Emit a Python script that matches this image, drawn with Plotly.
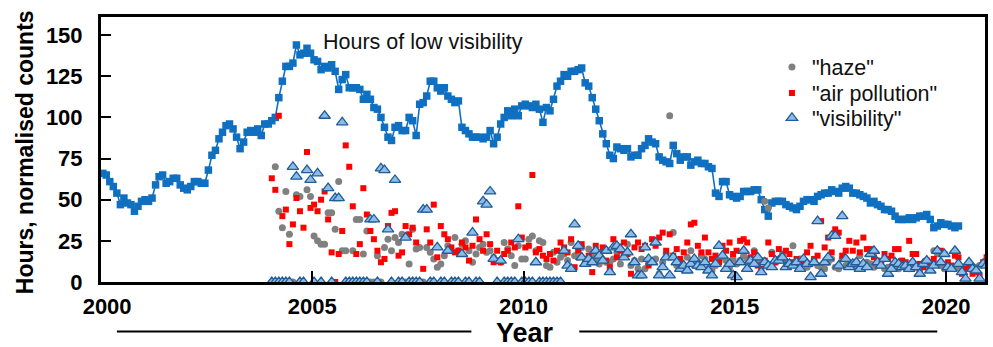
import plotly.graph_objects as go

# ---------------- data ----------------
# Hours of low visibility, monthly from Jan 2000
blue_2000_2020 = [
    66, 65, 61, 58, 54, 47, 51, 48, 47, 43, 46, 49,
    50, 49, 51, 59, 64, 65, 60, 61, 63, 63, 59, 57,
    56, 58, 61, 61, 60, 60, 68, 77, 80, 87, 91, 95,
    96, 93, 88, 81, 85, 91, 92, 91, 93, 89, 96, 96,
    98, 100, 112, 122, 131, 131, 133, 144, 138, 139, 142, 139,
    135, 134, 129, 131, 130, 132, 128, 117, 123, 126, 118, 118,
    118, 117, 111, 114, 111, 106, 105, 100, 94, 88, 86, 94,
    95, 92, 92, 100, 98, 89, 108, 109, 113, 122, 122, 118,
    116, 118, 113, 111, 109, 110, 94, 92, 90, 88, 88, 88,
    87, 88, 92, 84, 88, 96, 100, 104, 101, 105, 101, 107,
    108, 107, 106, 108, 105, 97, 106, 104, 111, 119, 122, 126,
    125, 128, 128, 129, 130, 121, 119, 112, 105, 98, 90, 84,
    77, 75, 82, 81, 80, 81, 76, 77, 77, 81, 83, 87,
    85, 84, 76, 74, 73, 72, 83, 78, 74, 76, 76, 71,
    73, 74, 72, 72, 70, 69, 54, 52, 61, 61, 53, 52,
    51, 52, 55, 55, 55, 56, 56, 50, 44, 40, 48, 49,
    49, 49, 47, 46, 45, 44, 46, 49, 50, 50, 49, 52,
    53, 54, 54, 56, 55, 54, 57, 58, 57, 54, 54, 53,
    52, 51, 48, 49, 47, 46, 44, 44, 43, 40, 38, 38,
    38, 39, 38, 39, 40, 40, 41, 38, 33, 34, 36, 35,
    35, 34, 33, 34,
]

# normalised counts, monthly from Jan 2004
haze = [
    0, 70, 43, 33, 55, 29, 0, 53, 52, 0, 56, 52,
    28, 25, 23, 23, 42, 42, 32, 61, 19, 19, 0, 19,
    38, 38, 17, 31, 0, 0, 16, 0, 21, 26, 19, 27,
    24, 29, 0, 11, 32, 20, 21, 0, 21, 18, 14, 9,
    11, 16, 22, 0, 27, 19, 23, 25, 19, 12, 17, 21,
    23, 18, 19, 15, 13, 12, 24, 20, 16, 10, 22, 14,
    14, 26, 28, 19, 25, 24, 10, 9, 18, 12, 15, 17,
    13, 24, 16, 15, 21, 12, 20, 17, 14, 11, 19, 12,
    12, 14, 18, 11, 16, 23, 10, 13, 8, 14, 8, 11,
    13, 14, 5, 12, 17, 101, 30, 10, 12, 9, 15, 19,
    10, 12, 16, 14, 8, 7, 10, 12, 15, 13, 9, 14,
    11, 13, 16, 14, 12, 19, 14, 13, 49, 45, 18, 12,
    14, 17, 12, 11, 22, 10, 14, 12, 9, 11, 13, 10,
    9, 8, 12, 14, 9, 8, 14, 10, 12, 11, 9, 16,
    10, 12, 11, 9, 10, 12, 8, 9, 9, 11, 8, 10,
    9, 8, 10, 9, 7, 10, 9, 12, 19, 17, 10, 8,
    10, 9, 8, 9, 7, 8, 8, 9, 9, 10, 11, 11,
]

air_pollution = [
    63, 56, 101, 40, 44, 23, 35, 51, 43, 33, 79, 45,
    47, 43, 50, 55, 38, 18, 0, 17, 31, 83, 70, 46,
    17, 23, 57, 41, 31, 26, 19, 12, 14, 34, 42, 43,
    16, 18, 34, 29, 33, 24, 0, 8, 32, 24, 47, 15,
    34, 29, 26, 21, 18, 19, 24, 21, 13, 22, 38, 26,
    19, 29, 23, 12, 19, 12, 17, 19, 24, 21, 46, 27,
    21, 22, 65, 18, 20, 16, 14, 17, 13, 19, 24, 21,
    18, 26, 9, 19, 23, 14, 16, 6, 22, 17, 21, 13,
    9, 26, 15, 19, 24, 17, 5, 21, 24, 20, 22, 10,
    26, 22, 27, 30, 19, 29, 16, 20, 14, 18, 24, 35,
    36, 22, 18, 27, 18, 14, 16, 12, 22, 19, 24, 17,
    19, 25, 26, 24, 15, 18, 10, 8, 13, 24, 17, 12,
    20, 15, 19, 17, 12, 14, 9, 11, 18, 22, 14, 16,
    37, 21, 27, 18, 32, 30, 16, 19, 25, 19, 24, 18,
    27, 20, 20, 15, 13, 12, 17, 14, 16, 20, 20, 13,
    12, 25, 17, 17, 11, 9, 13, 10, 14, 19, 19, 17,
    12, 10, 16, 15, 5, 8, 9, 5, 6, 4, 12, 15,
]

visibility = [
    0, 0, 0, 0, 0, 0, 70, 64, 0, 0, 68, 62,
    0, 66, 0, 101, 57, 0, 51, 51, 97, 0, 0, 0,
    0, 0, 0, 0, 38, 38, 0, 69, 68, 32, 0, 62,
    0, 0, 27, 0, 0, 0, 0, 44, 44, 0, 0, 21,
    0, 0, 19, 0, 0, 0, 17, 0, 0, 30, 0, 0,
    49, 47, 55, 14, 0, 13, 0, 0, 0, 0, 26, 0,
    0, 0, 0, 12, 0, 0, 0, 0, 0, 0, 0, 19,
    10, 8, 35, 22, 15, 11, 14, 12, 19, 16, 13, 19,
    6, 21, 22, 20, 15, 18, 29, 12, 4, 4, 21, 14,
    12, 24, 4, 9, 15, 4, 15, 12, 8, 10, 7, 11,
    14, 10, 9, 12, 7, 4, 11, 22, 16, 8, 11, 4,
    3, 12, 19, 8, 13, 11, 15, 6, 12, 10, 9, 13,
    13, 15, 9, 11, 10, 12, 8, 14, 11, 3, 12, 37,
    5, 12, 15, 28, 28, 10, 40, 14, 9, 11, 12, 8,
    11, 9, 17, 19, 12, 10, 14, 5, 8, 12, 11, 9,
    10, 8, 12, 9, 5, 11, 13, 7, 10, 19, 12, 17,
    9, 8, 19, 11, 6, 2, 12, 8, 7, 2, 11, 10,
]

blue_start_year = 2000
counts_start_year = 2004
x_ticks = [2000, 2005, 2010, 2015, 2020]
x_tick_labels = ["\u00a0\u00a02000", "2005", "2010", "2015", "2020"]
y_ticks = [0, 25, 50, 75, 100, 125, 150]

blue_x = [blue_start_year + (i + 0.5) / 12 for i in range(len(blue_2000_2020))]
cnt_x = [counts_start_year + (i + 0.5) / 12 for i in range(len(haze))]

# ---------------- figure ----------------
FONT = "Liberation Sans, Arial, sans-serif"
fig = go.Figure()

fig.add_trace(go.Scatter(
    x=blue_x, y=blue_2000_2020, mode="lines+markers", showlegend=False,
    line=dict(color="#0f6fc0", width=1.6),
    marker=dict(symbol="square", size=7.5, color="#0f6fc0"),
))
fig.add_trace(go.Scatter(
    x=cnt_x, y=haze, mode="markers", name='"haze"', legend="legend",
    marker=dict(symbol="circle", size=7, color="#808080"),
))
fig.add_trace(go.Scatter(
    x=cnt_x, y=air_pollution, mode="markers", name='"air pollution"', legend="legend2",
    marker=dict(symbol="square", size=6, color="#ff0000"),
))
fig.add_trace(go.Scatter(
    x=cnt_x, y=visibility, mode="markers", name='"visibility"', legend="legend3",
    marker=dict(symbol="triangle-up", size=10, color="#8dbde6",
                line=dict(color="#1f5c99", width=1.3)),
))

legend_font = dict(family=FONT, size=21.5, color="#111")


def legend_at(yc):
    return dict(x=0.759, y=yc, xanchor="left", yanchor="middle", font=legend_font,
                bgcolor="rgba(0,0,0,0)", itemsizing="trace")


fig.update_layout(
    width=993, height=347,
    margin=dict(l=101, r=5, t=17, b=65),
    paper_bgcolor="white", plot_bgcolor="white",
    font=dict(family=FONT, color="black"),
    legend=legend_at(0.811),
    legend2=legend_at(0.713),
    legend3=legend_at(0.619),
    annotations=[
        dict(text="Hours of low visibility", x=0.249, y=0.906, xref="paper", yref="paper",
             xanchor="left", yanchor="middle", showarrow=False,
             font=dict(family=FONT, size=21.5, color="#111")),
        dict(text="Hours, normalised counts", x=-0.086, y=0.49, xref="paper", yref="paper",
             xanchor="center", yanchor="middle", textangle=-90, showarrow=False,
             font=dict(family=FONT, size=23, weight="bold", color="black")),
        dict(text="Year", x=0.48, y=-0.193, xref="paper", yref="paper",
             xanchor="center", yanchor="middle", showarrow=False,
             font=dict(family=FONT, size=27, weight="bold", color="black")),
    ],
    shapes=[
        dict(type="line", xref="paper", yref="paper", x0=0.018, x1=0.419, y0=-0.187, y1=-0.187,
             line=dict(color="black", width=2)),
        dict(type="line", xref="paper", yref="paper", x0=0.541, x1=0.946, y0=-0.187, y1=-0.187,
             line=dict(color="black", width=2)),
    ],
)

fig.update_xaxes(
    range=[2000, 2020.92], tickvals=x_ticks, ticktext=x_tick_labels,
    ticks="inside", ticklen=11, tickwidth=2, tickcolor="black",
    showline=True, linewidth=3, linecolor="black", mirror=True,
    showgrid=False, zeroline=False, ticklabelstandoff=3,
    tickfont=dict(family=FONT, size=22, weight="bold", color="black"),
)
fig.update_yaxes(
    range=[0, 161], tickvals=y_ticks,
    ticks="inside", ticklen=10, tickwidth=2, tickcolor="black",
    showline=True, linewidth=3, linecolor="black", mirror=True,
    showgrid=False, zeroline=False, ticklabelstandoff=11,
    tickfont=dict(family=FONT, size=22, weight="bold", color="black"),
)

fig.write_html("out.html", config={"displayModeBar": False})

# remove the browser's default page margin so the figure sits at the window origin
with open("out.html", encoding="utf-8") as fh:
    page = fh.read()
page = page.replace("<head>", "<head><style>html,body{margin:0;padding:0;overflow:hidden;}</style>", 1)
with open("out.html", "w", encoding="utf-8") as fh:
    fh.write(page)
